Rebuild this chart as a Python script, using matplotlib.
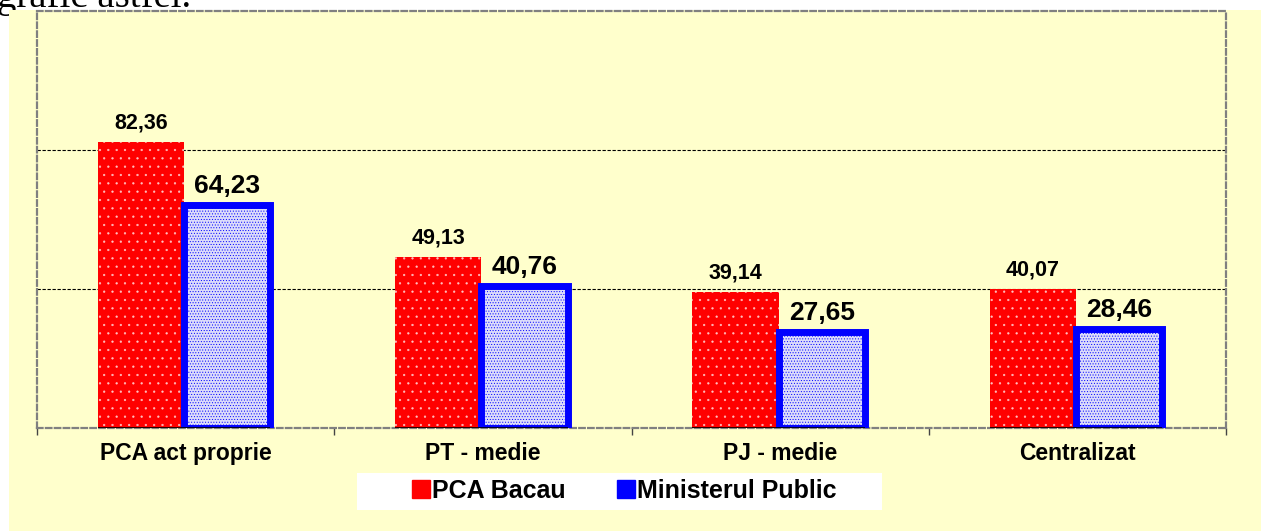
import numpy as np
import matplotlib.pyplot as plt
from matplotlib.patches import Rectangle
from matplotlib.lines import Line2D

categories = ['PCA act proprie', 'PT - medie', 'PJ - medie', 'Centralizat']
pca_bacau = [82.36, 49.13, 39.14, 40.07]
min_public = [64.23, 40.76, 27.65, 28.46]
series_names = ['PCA Bacau', 'Ministerul Public']

plt.rcParams['font.family'] = ['Liberation Sans', 'DejaVu Sans']
plt.rcParams['hatch.linewidth'] = 0.4

yellow = '#ffffcc'
fig = plt.figure(figsize=(12.61, 5.31), dpi=100, facecolor='white')
W, H = 1261, 531

# bit of document text cut off at the top
fig.text(-0.002, 1 - 7 / H, 'grafic astfel.', family='Liberation Serif',
         fontsize=28, va='baseline', ha='left', color='black', zorder=0)
fig.patches.append(Rectangle((9 / W, 0), 1, (H - 10) / H, transform=fig.transFigure,
                             facecolor=yellow, edgecolor='none', zorder=1))

ax = fig.add_axes([37 / W, (H - 428) / H, (1226 - 37) / W, (428 - 11) / H])
ax.set_facecolor(yellow)
ax.set_zorder(2)

x = np.arange(len(categories))
w = 0.29

# red bars: solid fill + white dots on top
ax.bar(x - 0.15, pca_bacau, w, color='#ff0000', edgecolor='#ff0000', linewidth=0, zorder=3)
ax.bar(x - 0.15, pca_bacau, w, facecolor='none', edgecolor='#ffc0c0', hatch='..',
       linewidth=0, zorder=3.1)
# blue bars: thick border, dense dot fill
ax.bar(x + 0.14, min_public, w, facecolor='#dcdcfa', edgecolor='#0000ff',
       hatch='......', linewidth=5, zorder=4)
ax.hlines(np.zeros(len(x)), x - 0.295, x + 0.285, color='black', linewidth=1.2, zorder=5)

for xi, v in zip(x, pca_bacau):
    ax.annotate(f'{v:.2f}'.replace('.', ','), (xi - 0.15, v), xytext=(0, 6),
                textcoords='offset points', ha='center', va='bottom',
                fontsize=15.5, fontweight='bold', zorder=6)
for xi, v in zip(x, min_public):
    ax.annotate(f'{v:.2f}'.replace('.', ','), (xi + 0.14, v), xytext=(0, 5),
                textcoords='offset points', ha='center', va='bottom',
                fontsize=19, fontweight='bold', zorder=6)

ax.set_xlim(-0.5, len(categories) - 0.5)
ax.set_ylim(0, 120)
ax.set_yticks([])
for yv in [40, 80]:
    ax.axhline(yv, color='black', linewidth=0.8, linestyle=(0, (3, 1.5)), zorder=2)

ax.set_xticks(x)
ax.set_xticklabels(categories, fontsize=16.5, fontweight='bold')
ax.tick_params(axis='x', which='major', length=0, pad=10)
ax.set_xticks(np.arange(len(categories) + 1) - 0.5, minor=True)
ax.tick_params(axis='x', which='minor', length=5, width=1, color='#444444', direction='out')

for s in ax.spines.values():
    s.set_color('#808080')
    s.set_linewidth(1.6)
    s.set_linestyle((0, (2.5, 1.5)))

# legend on a white strip
fig.patches.append(Rectangle((357 / W, (H - 510) / H), (882 - 357) / W, 37 / H,
                             transform=fig.transFigure, facecolor='white',
                             edgecolor='none', zorder=3))
handles = [Line2D([], [], marker='s', linestyle='none', markersize=13,
                  markerfacecolor='#ff0000', markeredgecolor='#ff0000'),
           Line2D([], [], marker='s', linestyle='none', markersize=13,
                  markerfacecolor='#0000ff', markeredgecolor='#0000ff')]
leg = fig.legend(handles, series_names, loc='center', bbox_to_anchor=(624 / W, 1 - 491 / H),
                 ncol=2, frameon=False, prop={'size': 18, 'weight': 'bold'},
                 handlelength=0.8, handletextpad=0.05, columnspacing=2.0)
leg.set_zorder(4)

fig.savefig('out.png', dpi=100, facecolor='white')
